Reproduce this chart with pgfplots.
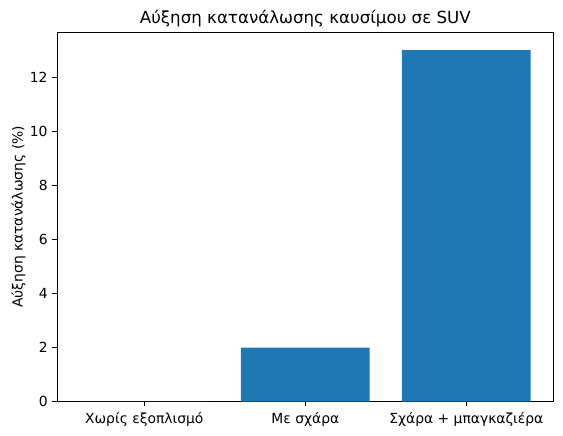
\documentclass[border=0pt]{standalone}
\usepackage{pgfplots}
\pgfplotsset{compat=1.18}
\usepackage{fontspec}
\setmainfont{DejaVu Sans}
\definecolor{mplblue}{HTML}{1F77B4}

\begin{document}
\begin{tikzpicture}
  \begin{axis}[
    name=ax,
    scale only axis,
    width=357.1pt, height=266pt,
    xmin=-0.54, xmax=2.54,
    ymin=0, ymax=13.66,
    xtick={0,1,2},
    xticklabels={Χωρίς εξοπλισμό, Με σχάρα, Σχάρα + μπαγκαζιέρα},
    ytick={0,2,4,6,8,10,12},
    tick align=outside,
    major tick length=3.5pt,
    tick style={black, line width=0.8pt},
    xtick pos=bottom, ytick pos=left,
    axis line style={line width=0.8pt},
    ticklabel style={font=\fontsize{10}{12}\selectfont},
    xticklabel style={yshift=-1pt},
    /pgf/number format/assume math mode=true,
    ylabel={Αύξηση κατανάλωσης (\%)},
    ylabel style={font=\fontsize{10}{12}\selectfont, yshift=-3.8pt},
    title={Αύξηση κατανάλωσης καυσίμου σε SUV},
    title style={font=\fontsize{12}{14}\selectfont, yshift=-5.6pt},
    ybar, bar width=0.8,
  ]
  % Αύξηση κατανάλωσης (%)
  \addplot [fill=mplblue, draw=none, bar shift=0pt] coordinates {
    (0,0)
    (1,2)
    (2,13)
  };
  \end{axis}
  \pgfresetboundingbox
  \path (ax.south west) ++(-41.3pt,-24.7pt) rectangle ++(405.4pt,313.9pt);
\end{tikzpicture}
\end{document}
